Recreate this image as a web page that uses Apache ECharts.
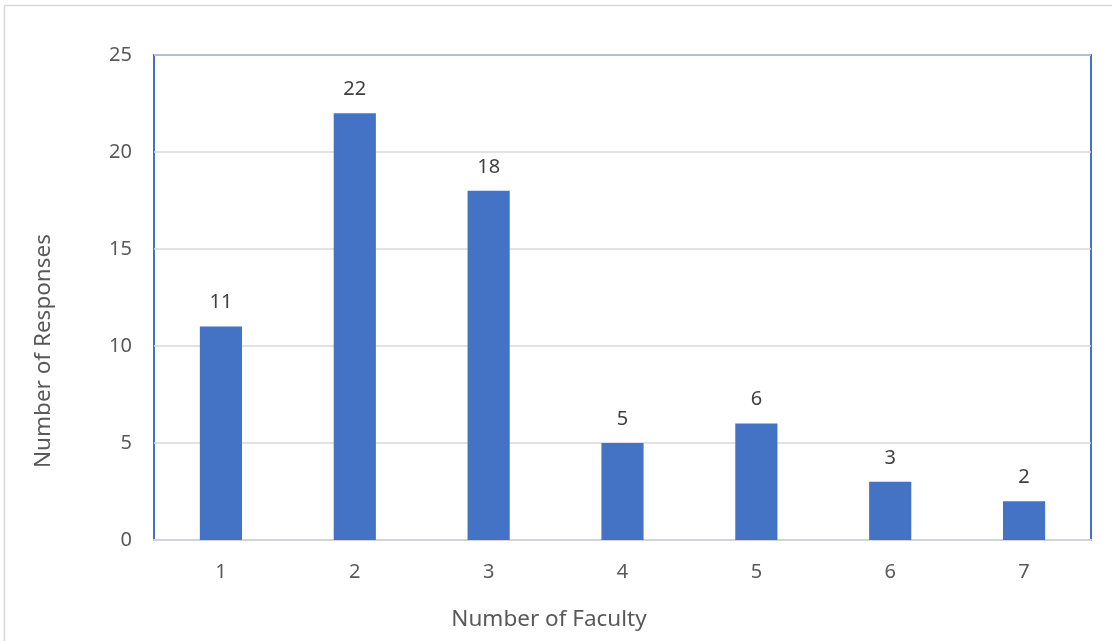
<!DOCTYPE html>
<html>
<head>
<meta charset="utf-8">
<script src="https://cdn.jsdelivr.net/npm/echarts@6/dist/echarts.min.js"></script>
<style>
html,body{margin:0;padding:0;background:#fff;}
#main{width:1112px;height:641px;}
</style>
</head>
<body>
<div id="main"></div>
<script>
// 数据
var faculty = ['1', '2', '3', '4', '5', '6', '7'];
var responses = [11, 22, 18, 5, 6, 3, 2];
var yTicks = [0, 5, 10, 15, 20, 25];
var xTitle = 'Number of Faculty';
var yTitle = 'Number of Responses';

var myChart = echarts.init(document.getElementById('main'));
var font = 'Noto Sans';
var option = {
	animation: false,
	textStyle: { fontFamily: font },
	graphic: [
		{
			type: 'rect',
			shape: { x: 4.5, y: 5.5, width: 1120, height: 660 },
			style: { fill: 'none', stroke: '#d9d9d9', lineWidth: 1.5 },
			silent: true
		},
		{
			type: 'text',
			x: 549, y: 620,
			style: {
				text: xTitle, fontSize: 22.5, fill: '#595959', fontFamily: font,
				align: 'center', verticalAlign: 'middle'
			}
		},
		{
			type: 'text',
			x: 44, y: 351,
			rotation: Math.PI / 2,
			style: {
				text: yTitle, fontSize: 22.5, fill: '#595959', fontFamily: font,
				align: 'center', verticalAlign: 'middle'
			}
		}
	],
	grid: {
		left: 154, top: 55, right: 21, bottom: 101,
		show: true,
		borderColor: '#4472c4',
		borderWidth: 2,
		backgroundColor: 'transparent'
	},
	xAxis: {
		type: 'category',
		data: faculty,
		axisLine: { lineStyle: { color: '#d0d3d9', width: 2 } },
		axisTick: { show: false },
		axisLabel: { fontSize: 20, color: '#595959', margin: 22, fontFamily: font }
	},
	yAxis: {
		type: 'value',
		min: yTicks[0],
		max: yTicks[yTicks.length - 1],
		interval: 5,
		axisLine: { show: false },
		axisTick: { show: false },
		axisLabel: { fontSize: 20, color: '#595959', margin: 22, fontFamily: font },
		splitLine: { lineStyle: { color: '#d9d9d9', width: 1.5 } }
	},
	series: [
		{
			name: 'Responses',
			type: 'bar',
			data: responses,
			barWidth: '31.5%',
			itemStyle: { color: '#4472c4' },
			label: {
				show: true,
				position: 'top',
				distance: 14,
				fontSize: 20,
				color: '#404040',
				fontFamily: font
			}
		}
	]
};
myChart.setOption(option);
</script>
</body>
</html>
